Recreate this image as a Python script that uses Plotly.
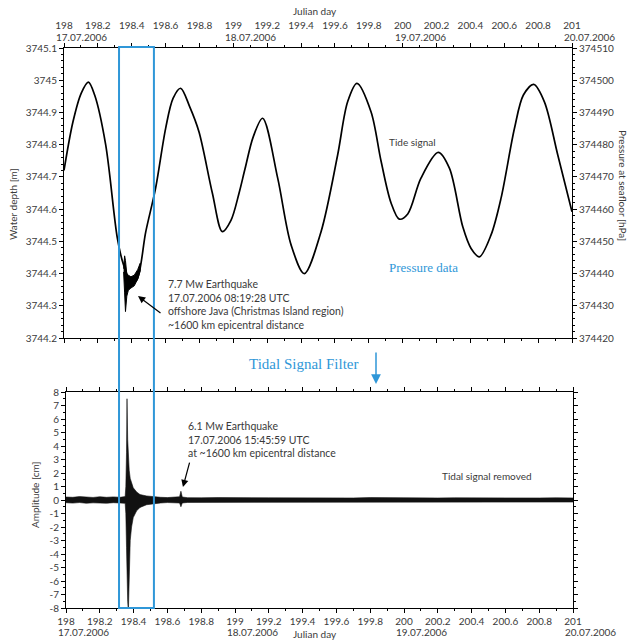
import plotly.graph_objects as go

W, H = 633, 640


def px(x):
    return x / W


def py(y):
    return 1 - y / H


# ---------------- data ----------------
day_ticks = [198.0, 198.2, 198.4, 198.6, 198.8, 199.0, 199.2, 199.4, 199.6, 199.8,
             200.0, 200.2, 200.4, 200.6, 200.8, 201.0]
day_labels = ["198", "198.2", "198.4", "198.6", "198.8", "199", "199.2", "199.4", "199.6",
              "199.8", "200", "200.2", "200.4", "200.6", "200.8", "201"]
date_days = [198, 199, 200, 201]
date_labels = ["17.07.2006", "18.07.2006", "19.07.2006", "20.07.2006"]

depth_ticks = [3744.2, 3744.3, 3744.4, 3744.5, 3744.6, 3744.7, 3744.8, 3744.9, 3745.0, 3745.1]
depth_labels = ["3744.2", "3744.3", "3744.4", "3744.5", "3744.6", "3744.7", "3744.8",
                "3744.9", "3745", "3745.1"]
press_ticks = [374420, 374430, 374440, 374450, 374460, 374470, 374480, 374490, 374500, 374510]
press_labels = [str(v) for v in press_ticks]
amp_ticks = [-8, -7, -6, -5, -4, -3, -2, -1, 0, 1, 2, 3, 4, 5, 6, 7, 8]
amp_labels = [str(v) for v in amp_ticks]

# tide signal (water depth, m)
tide_day = [198.000, 198.053, 198.102, 198.144, 198.181, 198.246, 198.315, 198.350, 198.400,
            198.430, 198.483, 198.541, 198.600, 198.644, 198.689, 198.742, 198.797, 198.876,
            198.935, 198.986, 199.034, 199.069, 199.118, 199.173, 199.262, 199.341, 199.419,
            199.518, 199.616, 199.675, 199.730, 199.813, 199.872, 199.931, 199.980, 200.030,
            200.108, 200.210, 200.276, 200.355, 200.404, 200.453, 200.522, 200.581, 200.660,
            200.713, 200.774, 200.837, 200.916, 201.000]
tide_depth = [3744.720, 3744.871, 3744.960, 3744.994, 3744.954, 3744.800, 3744.510, 3744.430,
              3744.372, 3744.380, 3744.530, 3744.665, 3744.850, 3744.944, 3744.975, 3744.918,
              3744.840, 3744.650, 3744.530, 3744.565, 3744.650, 3744.725, 3744.825, 3744.882,
              3744.696, 3744.489, 3744.400, 3744.530, 3744.768, 3744.933, 3744.990, 3744.902,
              3744.750, 3744.620, 3744.569, 3744.585, 3744.696, 3744.776, 3744.727, 3744.545,
              3744.478, 3744.452, 3744.520, 3744.634, 3744.850, 3744.954, 3744.987, 3744.933,
              3744.768, 3744.592]

# earthquake disturbance on the tide record (envelope, m)
quake_day = [198.352, 198.358, 198.363, 198.367, 198.371, 198.380, 198.395, 198.415, 198.435, 198.450]
quake_upper = [3744.415, 3744.455, 3744.440, 3744.405, 3744.398, 3744.395, 3744.390, 3744.395,
               3744.412, 3744.432]
quake_lower = [3744.405, 3744.340, 3744.282, 3744.300, 3744.330, 3744.348, 3744.355, 3744.362,
               3744.383, 3744.408]

# filtered amplitude (cm), envelope of the record
amp_day = [198.000, 198.040, 198.080, 198.120, 198.160, 198.200, 198.240, 198.280, 198.320,
           198.350, 198.354, 198.358, 198.361, 198.365, 198.369, 198.374, 198.380, 198.388,
           198.398, 198.418, 198.438, 198.477, 198.517, 198.560, 198.600, 198.640, 198.672,
           198.680, 198.688, 198.720, 198.760, 198.800, 198.900, 199.000, 199.100, 199.200,
           199.300, 199.400, 199.500, 199.600, 199.700, 199.800, 199.900, 200.000, 200.100,
           200.200, 200.300, 200.400, 200.500, 200.600, 200.700, 200.800, 200.900, 201.000]
amp_upper = [0.22, 0.20, 0.25, 0.21, 0.19, 0.24, 0.20, 0.23, 0.20, 0.25, 1.0, 3.5, 7.5, 4.5,
             3.0, 2.2, 1.6, 1.2, 0.9, 0.6, 0.4, 0.3, 0.24, 0.20, 0.18, 0.19, 0.24, 0.65, 0.22,
             0.17, 0.19, 0.16, 0.18, 0.15, 0.17, 0.16, 0.15, 0.17, 0.15, 0.16, 0.15, 0.18, 0.16,
             0.15, 0.17, 0.15, 0.16, 0.15, 0.17, 0.15, 0.16, 0.15, 0.16, 0.15]
amp_lower = [-0.20, -0.23, -0.19, -0.24, -0.21, -0.22, -0.24, -0.20, -0.22, -0.25, -1.0,
             -3.5, -6.0, -7.5, -8.3, -6.0, -3.0, -2.0, -1.3, -0.8, -0.55, -0.35, -0.26, -0.22,
             -0.19, -0.20, -0.22, -0.50, -0.22, -0.18, -0.16, -0.17, -0.15, -0.17, -0.15, -0.16,
             -0.15, -0.17, -0.15, -0.16, -0.15, -0.17, -0.15, -0.16, -0.15, -0.17, -0.15, -0.16,
             -0.15, -0.17, -0.15, -0.16, -0.15, -0.15]

# pressure axis relation: hPa = 374420 + (m - 3744.2) * 100
tide_press = [374420 + (d - 3744.2) * 100 for d in tide_depth]

FONT = "Lato"
TXT = "#3a3a3a"
BLUE = "#2f97d8"

fig = go.Figure()

# top panel
fig.add_trace(go.Scatter(x=tide_day, y=tide_depth, xaxis="x2", yaxis="y2", mode="lines",
                         line=dict(color="black", width=1.7, shape="spline", smoothing=0.9),
                         hoverinfo="skip", showlegend=False))
fig.add_trace(go.Scatter(x=quake_day + quake_day[::-1], y=quake_upper + quake_lower[::-1],
                         xaxis="x2", yaxis="y2", mode="lines", fill="toself",
                         fillcolor="black", line=dict(color="black", width=1),
                         hoverinfo="skip", showlegend=False))
fig.add_trace(go.Scatter(x=tide_day, y=tide_press, xaxis="x2", yaxis="y3", mode="lines",
                         line=dict(color="rgba(0,0,0,0)", width=0), hoverinfo="skip",
                         showlegend=False))

# bottom panel
fig.add_trace(go.Scatter(x=amp_day + amp_day[::-1], y=amp_upper + amp_lower[::-1],
                         xaxis="x", yaxis="y", mode="lines", fill="toself",
                         fillcolor="#111111", line=dict(color="#111111", width=0.6),
                         hoverinfo="skip", showlegend=False))

tickfont = dict(family=FONT, size=10, color=TXT)
axis_common = dict(showgrid=False, zeroline=False, showline=True, linecolor="black",
                   linewidth=1, ticks="outside", ticklen=4, tickcolor="black",
                   tickfont=tickfont, automargin=False)

top_dom_x = [px(64), px(572)]
bot_dom_x = [px(66), px(573)]

fig.update_layout(
    width=W, height=H, margin=dict(l=0, r=0, t=0, b=0, autoexpand=False),
    paper_bgcolor="white", plot_bgcolor="white", showlegend=False,
    xaxis2=dict(domain=top_dom_x, anchor="y2", side="top", range=[198, 201],
                tickmode="array", tickvals=day_ticks, ticktext=day_labels, mirror="ticks",
                ticklabelstandoff=10,
                minor=dict(dtick=0.1, tick0=198, ticks="outside", ticklen=2,
                           tickcolor="black"),
                **axis_common),
    yaxis2=dict(domain=[py(338), py(48)], anchor="x2", range=[3744.2, 3745.1],
                tickmode="array", tickvals=depth_ticks, ticktext=depth_labels,
                minor=dict(dtick=0.02, tick0=3744.2, ticks="outside", ticklen=2,
                           tickcolor="black"),
                **axis_common),
    yaxis3=dict(overlaying="y2", anchor="x2", side="right", range=[374420, 374510],
                tickmode="array", tickvals=press_ticks, ticktext=press_labels,
                minor=dict(dtick=2, tick0=374420, ticks="outside", ticklen=2,
                           tickcolor="black"),
                **axis_common),
    xaxis=dict(domain=bot_dom_x, anchor="y", range=[198, 201], tickmode="array",
               tickvals=day_ticks, ticktext=day_labels, mirror="ticks",
               minor=dict(dtick=0.1, tick0=198, ticks="outside", ticklen=2,
                          tickcolor="black"),
               **axis_common),
    yaxis=dict(domain=[py(608), py(392)], anchor="x", range=[-8, 8], tickmode="array",
               tickvals=amp_ticks, ticktext=amp_labels, mirror="ticks",
               minor=dict(dtick=0.5, tick0=-8, ticks="outside", ticklen=2,
                          tickcolor="black"),
               **axis_common),
)

# blue selection box spanning both panels
fig.add_shape(type="rect", xref="x2", yref="paper", x0=198.325, x1=198.531,
              y0=py(608), y1=py(47), line=dict(color=BLUE, width=2),
              fillcolor="rgba(0,0,0,0)", layer="above")

ann = []
f10 = dict(family=FONT, size=10, color=TXT)
f11 = dict(family=FONT, size=10.5, color=TXT)
for d, lab in zip(date_days, date_labels):
    ann.append(dict(x=d, xref="x2", y=py(37), yref="paper", text=lab, showarrow=False,
                    xanchor="left", yanchor="middle", xshift=-10, font=f10))
    ann.append(dict(x=d, xref="x", y=py(632), yref="paper", text=lab, showarrow=False,
                    xanchor="left", yanchor="middle", xshift=-10, font=f10))

ann += [
    dict(x=px(315), y=py(11), xref="paper", yref="paper", text="Julian day", showarrow=False,
         font=f10, xanchor="center", yanchor="middle"),
    dict(x=px(315), y=py(634), xref="paper", yref="paper", text="Julian day",
         showarrow=False, font=f10, xanchor="center", yanchor="middle"),
    dict(x=px(13), y=py(205), xref="paper", yref="paper", text="Water depth [m]",
         showarrow=False, textangle=-90, font=f10, xanchor="center", yanchor="middle"),
    dict(x=px(623), y=py(185), xref="paper", yref="paper", text="Pressure at seafloor [hPa]",
         showarrow=False, textangle=90, font=f10, xanchor="center", yanchor="middle"),
    dict(x=px(35), y=py(495), xref="paper", yref="paper", text="Amplitude [cm]",
         showarrow=False, textangle=-90, font=f10, xanchor="center", yanchor="middle"),
    dict(x=px(387), y=py(142), xref="paper", yref="paper", text="Tide signal",
         showarrow=False, font=f10, xanchor="left", yanchor="middle"),
    dict(x=px(387), y=py(267), xref="paper", yref="paper", text="Pressure data",
         showarrow=False, font=dict(family="Liberation Serif", size=13, color=BLUE),
         xanchor="left", yanchor="middle"),
    dict(x=px(247), y=py(364), xref="paper", yref="paper", text="Tidal Signal Filter",
         showarrow=False, font=dict(family="Liberation Serif", size=15, color=BLUE),
         xanchor="left", yanchor="middle"),
    dict(x=px(376), y=py(384), xref="paper", yref="paper", text="", showarrow=True,
         ax=0, ay=-33, arrowcolor=BLUE, arrowhead=2, arrowsize=1.3, arrowwidth=1.5),
    dict(x=px(166), y=py(276), xref="paper", yref="paper",
         text="7.7 Mw Earthquake<br>17.07.2006 08:19:28 UTC<br>"
              "offshore Java (Christmas Island region)<br>~1600 km epicentral distance",
         showarrow=False, font=f11, xanchor="left", yanchor="top", align="left"),
    dict(x=198.437, y=3744.330, xref="x2", yref="y2", text="", showarrow=True,
         ax=24, ay=18, arrowcolor="black", arrowhead=2, arrowsize=1.2, arrowwidth=1.2),
    dict(x=px(186), y=py(418), xref="paper", yref="paper",
         text="6.1 Mw Earthquake<br>17.07.2006 15:45:59 UTC<br>at ~1600 km epicentral distance",
         showarrow=False, font=f11, xanchor="left", yanchor="top", align="left"),
    dict(x=198.692, y=0.96, xref="x", yref="y", text="", showarrow=True,
         ax=7, ay=-26, arrowcolor="black", arrowhead=2, arrowsize=1.2, arrowwidth=1.2),
    dict(x=px(440), y=py(476), xref="paper", yref="paper", text="Tidal signal removed",
         showarrow=False, font=f10, xanchor="left", yanchor="middle"),
]
fig.update_layout(annotations=ann)

fig.write_html("out.html")
